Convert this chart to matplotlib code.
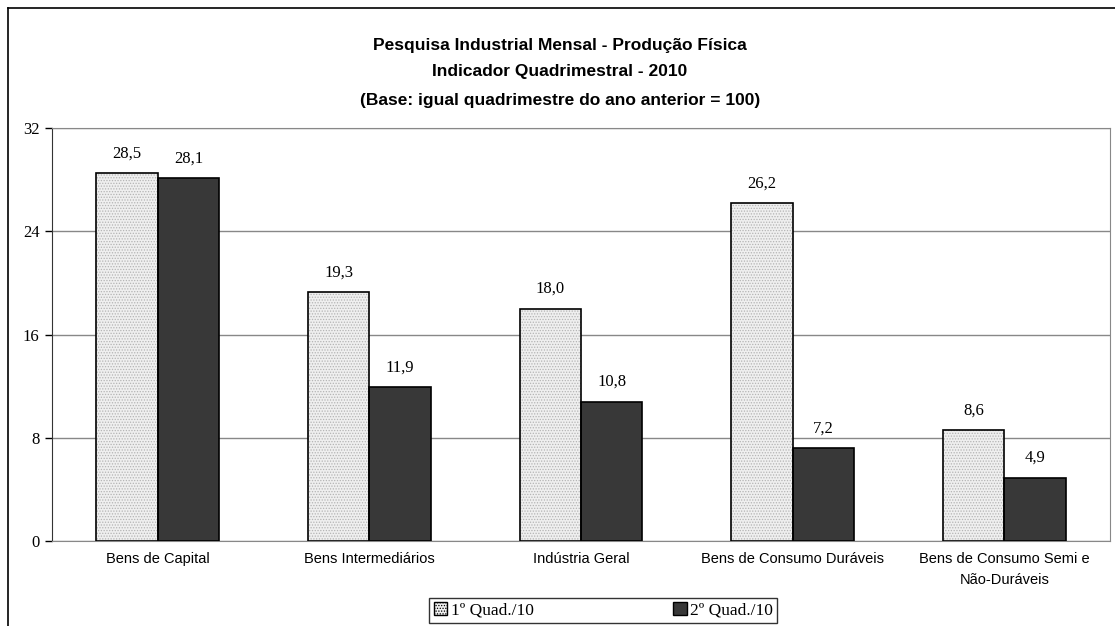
import matplotlib
matplotlib.use("Agg")
import matplotlib.pyplot as plt
import matplotlib.font_manager as fm
import numpy as np
from matplotlib.patches import Rectangle
from matplotlib.lines import Line2D

categories = ["Bens de Capital", "Bens Intermediários", "Indústria Geral",
              "Bens de Consumo Duráveis", "Bens de Consumo Semi e\nNão-Duráveis"]
q1_values = [28.5, 19.3, 18.0, 26.2, 8.6]
q2_values = [28.1, 11.9, 10.8, 7.2, 4.9]
series_names = ["1º Quad./10", "2º Quad./10"]
y_ticks = [0, 8, 16, 24, 32]

names = {f.name for f in fm.fontManager.ttflist}
SANS = "Liberation Sans Narrow" if "Liberation Sans Narrow" in names else "Liberation Sans"
SERIF = "Liberation Serif"

HATCH_GRAY = "#b4b4b4"
LIGHT = "#efefef"
DARK = "#383838"
plt.rcParams["hatch.linewidth"] = 0.6

fig = plt.figure(figsize=(11.15, 6.26), dpi=100)
ax = fig.add_axes([0.0466, 0.1358, 0.949, 0.6597])

x = np.arange(len(categories))
w = 0.29
# light bars: gray dotted fill first, black outline on top
ax.bar(x - w / 2, q1_values, w, facecolor=LIGHT, edgecolor=HATCH_GRAY,
       linewidth=0, hatch="......", zorder=3)
ax.bar(x - w / 2, q1_values, w, fill=False, edgecolor="black",
       linewidth=1.2, zorder=4)
ax.bar(x + w / 2, q2_values, w, facecolor=DARK, edgecolor="black",
       linewidth=1.2, zorder=3)

# value labels
for xi, v in zip(x - w / 2, q1_values):
    ax.text(xi, v + 0.9, f"{v:.1f}".replace(".", ","), ha="center", va="bottom",
            fontsize=12, family=SERIF)
for xi, v in zip(x + w / 2, q2_values):
    ax.text(xi, v + 0.9, f"{v:.1f}".replace(".", ","), ha="center", va="bottom",
            fontsize=12, family=SERIF)

ax.set_xlim(-0.5, len(categories) - 0.5)
ax.set_ylim(0, 32)
ax.set_yticks(y_ticks)
ax.set_yticklabels([str(t) for t in y_ticks], family=SERIF, fontsize=12)
ax.yaxis.grid(True, color="#888888", linewidth=1.0, zorder=0)
ax.set_xticks(x)
ax.set_xticklabels(categories, family=SANS, fontsize=10.5, linespacing=1.6)
ax.tick_params(axis="x", length=0, pad=8)
ax.tick_params(axis="y", direction="out", length=5, width=1, pad=4)
for s in ["top", "right", "bottom"]:
    ax.spines[s].set_color("#888888")
ax.spines["left"].set_color("#333333")

title_lines = ["Pesquisa Industrial Mensal - Produção Física",
               "Indicador Quadrimestral - 2010",
               "(Base: igual quadrimestre do ano anterior = 100)"]
for ty, line in zip([0.928, 0.885, 0.840], title_lines):
    fig.text(0.502, ty, line, ha="center", va="center", fontsize=12.5,
             fontweight="bold", family=SANS)

# outer frame lines (chart area border, cropped at right/bottom)
fig.add_artist(Line2D([8 / 1115, 8 / 1115], [0, 1 - 8 / 626], transform=fig.transFigure,
                      color="black", linewidth=1.2))
fig.add_artist(Line2D([8 / 1115, 1], [1 - 8 / 626, 1 - 8 / 626], transform=fig.transFigure,
                      color="black", linewidth=1.2))

h1 = Rectangle((0, 0), 1, 1, facecolor=LIGHT, edgecolor="black", hatch="......")
h2 = Rectangle((0, 0), 1, 1, facecolor=DARK, edgecolor="black")
leg = fig.legend([h1, h2], series_names, loc="center", bbox_to_anchor=(0.541, 0.025),
                 ncol=2, frameon=True, fancybox=False, edgecolor="black",
                 prop={"family": SERIF, "size": 12.5}, handlelength=0.8, handleheight=0.8,
                 handletextpad=0.2, columnspacing=8, borderpad=0.25)
leg.get_frame().set_linewidth(1.0)

fig.savefig("out.png", dpi=100)
